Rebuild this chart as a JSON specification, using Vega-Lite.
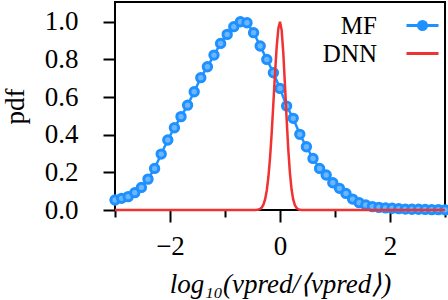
{
  "$schema": "https://vega.github.io/schema/vega-lite/v6.json",
  "width": 330,
  "height": 208,
  "autosize": {"type": "none"},
  "padding": {"left": 115, "top": 2, "right": 3, "bottom": 90},
  "background": "white",
  "config": {
    "font": "Liberation Serif",
    "view": {"stroke": "black", "strokeWidth": 2},
    "axis": {
      "labelFont": "Liberation Serif",
      "labelFontSize": 27,
      "labelColor": "black",
      "titleFont": "Liberation Serif",
      "titleFontSize": 27,
      "titleFontWeight": "normal",
      "titleColor": "black",
      "tickColor": "black",
      "tickWidth": 2,
      "domain": false,
      "grid": false
    }
  },
  "datasets": {
    "mf": [
      {"x": -3.00, "y": 0.053}, {"x": -2.88, "y": 0.062}, {"x": -2.76, "y": 0.071}, {"x": -2.64, "y": 0.092},
      {"x": -2.52, "y": 0.120}, {"x": -2.40, "y": 0.164}, {"x": -2.28, "y": 0.221}, {"x": -2.16, "y": 0.297},
      {"x": -2.04, "y": 0.372}, {"x": -1.92, "y": 0.437}, {"x": -1.80, "y": 0.496}, {"x": -1.68, "y": 0.557},
      {"x": -1.56, "y": 0.628}, {"x": -1.44, "y": 0.703}, {"x": -1.32, "y": 0.761}, {"x": -1.20, "y": 0.823},
      {"x": -1.08, "y": 0.885}, {"x": -0.96, "y": 0.933}, {"x": -0.84, "y": 0.974}, {"x": -0.72, "y": 1.000},
      {"x": -0.60, "y": 0.995}, {"x": -0.48, "y": 0.942}, {"x": -0.36, "y": 0.871}, {"x": -0.24, "y": 0.800},
      {"x": -0.12, "y": 0.729}, {"x": 0.00, "y": 0.646}, {"x": 0.12, "y": 0.552}, {"x": 0.24, "y": 0.487},
      {"x": 0.36, "y": 0.402}, {"x": 0.48, "y": 0.336}, {"x": 0.60, "y": 0.274}, {"x": 0.72, "y": 0.221},
      {"x": 0.84, "y": 0.186}, {"x": 0.96, "y": 0.145}, {"x": 1.08, "y": 0.115}, {"x": 1.20, "y": 0.088},
      {"x": 1.32, "y": 0.058}, {"x": 1.44, "y": 0.039}, {"x": 1.56, "y": 0.027}, {"x": 1.68, "y": 0.018},
      {"x": 1.80, "y": 0.014}, {"x": 1.92, "y": 0.011}, {"x": 2.04, "y": 0.009}, {"x": 2.16, "y": 0.007},
      {"x": 2.28, "y": 0.005}, {"x": 2.40, "y": 0.004}, {"x": 2.52, "y": 0.004}, {"x": 2.64, "y": 0.003},
      {"x": 2.76, "y": 0.002}, {"x": 2.88, "y": 0.002}, {"x": 3.00, "y": 0.001}
    ],
    "dnn": [
      {"x": -3.00, "y": 0.0}, {"x": -0.48, "y": 0.0}, {"x": -0.45, "y": 0.0004}, {"x": -0.42, "y": 0.001},
      {"x": -0.39, "y": 0.0026}, {"x": -0.36, "y": 0.0063}, {"x": -0.33, "y": 0.014}, {"x": -0.30, "y": 0.0295},
      {"x": -0.27, "y": 0.0576}, {"x": -0.24, "y": 0.105}, {"x": -0.21, "y": 0.178}, {"x": -0.18, "y": 0.281},
      {"x": -0.15, "y": 0.414}, {"x": -0.12, "y": 0.569}, {"x": -0.09, "y": 0.728}, {"x": -0.06, "y": 0.868},
      {"x": -0.03, "y": 0.965}, {"x": 0.00, "y": 1.0}, {"x": 0.03, "y": 0.956}, {"x": 0.06, "y": 0.835},
      {"x": 0.09, "y": 0.667}, {"x": 0.12, "y": 0.487}, {"x": 0.15, "y": 0.325}, {"x": 0.18, "y": 0.198},
      {"x": 0.21, "y": 0.110}, {"x": 0.24, "y": 0.056}, {"x": 0.27, "y": 0.026}, {"x": 0.30, "y": 0.011},
      {"x": 0.33, "y": 0.004}, {"x": 0.36, "y": 0.001}, {"x": 0.39, "y": 0.0}, {"x": 3.00, "y": 0.0}
    ]
  },
  "encoding": {
    "x": {
      "field": "x", "type": "quantitative",
      "scale": {"domain": [-3, 3], "nice": false, "zero": false},
      "axis": {
        "values": [-3, -2, -1, 0, 1, 2, 3],
        "labelExpr": "datum.value % 2 === 0 ? datum.label : ''",
        "tickSize": {"condition": {"test": "datum.value % 2 === 0", "value": 12}, "value": 7},
        "labelPadding": 11,
        "title": "log₁₀(νpred/⟨νpred⟩)",
        "titleFontStyle": "italic",
        "titlePadding": 12
      }
    },
    "y": {
      "field": "y", "type": "quantitative",
      "scale": {"domain": [0, 1.105], "nice": false},
      "axis": {
        "values": [0, 0.2, 0.4, 0.6, 0.8, 1.0],
        "format": ".1f",
        "tickSize": 12,
        "labelPadding": 25,
        "title": "pdf",
        "titlePadding": 15
      }
    }
  },
  "layer": [
    {
      "data": {"name": "mf"},
      "transform": [{"calculate": "'MF'", "as": "series"}],
      "mark": {"type": "line", "strokeWidth": 2.5},
      "encoding": {
        "color": {
          "field": "series", "type": "nominal",
          "scale": {"domain": ["MF", "DNN"], "range": ["#1e90ff", "#f03232"]},
          "legend": {
            "orient": "none",
            "legendX": 295,
            "legendY": 11,
            "title": null,
            "symbolSize": 400,
            "symbolStrokeWidth": 3,
            "labelFont": "Liberation Serif",
            "labelFontSize": 25,
            "labelColor": "black",
            "labelAlign": "right",
            "labelOffset": -58,
            "rowPadding": 2,
            "encode": {
              "symbols": {
                "update": {
                  "shape": {"signal": "datum.value === 'MF' ? 'M-1.6,0H1.6M-0.4,0A0.4,0.4,0,1,0,0.4,0A0.4,0.4,0,1,0,-0.4,0Z' : 'M-1.6,0H1.6'"},
                  "fill": {"signal": "datum.value === 'MF' ? '#1e90ff' : 'transparent'"}
                }
              }
            }
          }
        }
      }
    },
    {
      "data": {"name": "mf"},
      "mark": {"type": "point", "filled": false, "shape": "circle", "size": 70, "stroke": "#1e90ff", "strokeWidth": 3, "fill": "#6cb6ff", "fillOpacity": 1, "opacity": 1}
    },
    {
      "data": {"name": "dnn"},
      "transform": [{"calculate": "'DNN'", "as": "series"}],
      "mark": {"type": "line", "strokeWidth": 2.5},
      "encoding": {
        "color": {"field": "series", "type": "nominal"}
      }
    }
  ]
}
